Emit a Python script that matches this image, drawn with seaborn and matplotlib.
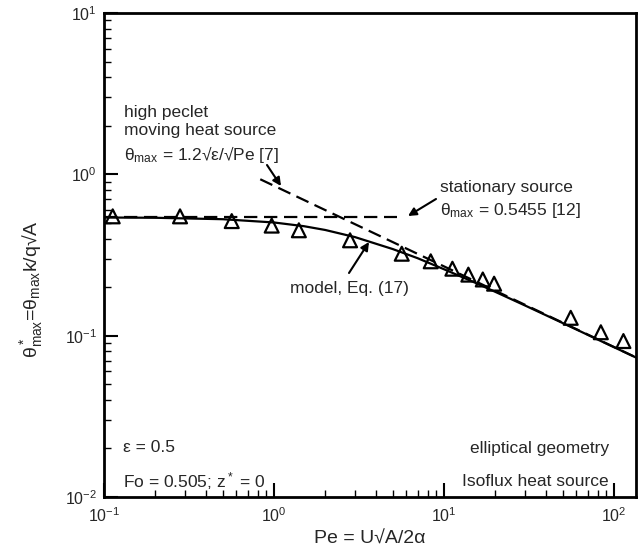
import matplotlib
matplotlib.use("Agg")
import matplotlib.pyplot as plt
import seaborn as sns
import numpy as np

# ---- data ----
pe_data = [0.1125, 0.280, 0.564, 0.969, 1.40, 2.80, 5.64, 8.35, 11.2, 13.9, 16.9, 19.7, 55.6, 83.6, 113.5]
theta_data = [0.549, 0.549, 0.513, 0.481, 0.450, 0.390, 0.322, 0.289, 0.260, 0.239, 0.223, 0.210, 0.129, 0.105, 0.0926]

pe_model = [0.1, 0.2, 0.5, 1, 1.5, 2, 3, 5, 7, 10, 15, 20, 30, 50, 80, 134.6]
theta_model = [0.540, 0.538, 0.527, 0.503, 0.477, 0.452, 0.408, 0.344, 0.302, 0.258, 0.2145, 0.187, 0.1537, 0.1196, 0.0947, 0.0732]

pe_stat = [0.1, 5.3]
theta_stat = [0.5455, 0.5455]

pe_high = [0.83, 134.6]
theta_high = [0.932, 0.0733]

sns.set_style("ticks")
plt.rcParams['font.family'] = ['Liberation Sans', 'DejaVu Sans']
plt.rcParams['mathtext.fontset'] = 'custom'
plt.rcParams['mathtext.rm'] = 'Liberation Sans'
plt.rcParams['mathtext.it'] = 'Liberation Sans'
plt.rcParams['mathtext.default'] = 'regular'
plt.rcParams['axes.unicode_minus'] = False

W, H = 644, 550
fig = plt.figure(figsize=(W / 100, H / 100), dpi=100)
ax = fig.add_axes([104 / W, 1 - 497 / H, (636 - 104) / W, (497 - 13) / H])
ax.set_xscale('log')
ax.set_yscale('log')

dash = (0, (6, 3))
sns.lineplot(x=pe_model, y=theta_model, ax=ax, color='black', lw=1.6, sort=False)
sns.lineplot(x=pe_stat, y=theta_stat, ax=ax, color='black', lw=1.6, linestyle=dash, sort=False)
sns.lineplot(x=pe_high, y=theta_high, ax=ax, color='black', lw=1.6, linestyle=dash, sort=False)
sns.scatterplot(x=pe_data, y=theta_data, ax=ax, marker='^', s=100,
                facecolor='none', edgecolor='black', linewidth=1.6, zorder=5)

ax.set_xlim(0.1, 134.6)
ax.set_ylim(0.01, 10)

for sp in ax.spines.values():
    sp.set_visible(True)
    sp.set_linewidth(2.0)
    sp.set_color('black')

ax.tick_params(which='major', direction='in', length=10, width=1.5, labelsize=11.5,
               top=False, right=False, color='black')
ax.tick_params(which='minor', direction='in', length=5, width=1.0,
               top=False, right=False, color='black')
ax.tick_params(axis='x', which='major', pad=7)
ax.tick_params(axis='y', which='major', pad=5)

ax.set_xlabel('Pe = U√A/2α', fontsize=14, va='center')
ax.xaxis.set_label_coords(0.5, -0.088)
ax.set_ylabel(r'$\theta^*_{max}$=$\theta_{max}$k/q√A', fontsize=14, va='center')
ax.yaxis.set_label_coords(-0.137, 0.43)

def fx(px):
    return px / W

def fy(py):
    return 1 - py / H

fs = 12.5
fig.text(fx(124), fy(112), 'high peclet', fontsize=fs, va='center')
fig.text(fx(124), fy(130), 'moving heat source', fontsize=fs, va='center')
fig.text(fx(124), fy(155), r'$\theta_{max}$ = 1.2√ε/√Pe [7]', fontsize=fs, va='center')
fig.text(fx(440), fy(187), 'stationary source', fontsize=fs, va='center')
fig.text(fx(440), fy(210), r'$\theta_{max}$ = 0.5455 [12]', fontsize=fs, va='center')
fig.text(fx(290), fy(288), 'model, Eq. (17)', fontsize=fs, va='center')
fig.text(fx(123), fy(448), 'ε = 0.5', fontsize=fs, va='center')
fig.text(fx(123), fy(481), r'Fo = 0.505; z$^*$ = 0', fontsize=fs, va='center')
fig.text(fx(609), fy(448), 'elliptical geometry', fontsize=fs, va='center', ha='right')
fig.text(fx(609), fy(481), 'Isoflux heat source', fontsize=fs, va='center', ha='right')

arrow = dict(arrowstyle='-|>', color='black', lw=1.5, mutation_scale=12, shrinkA=0, shrinkB=0)
for tail, tip in [((267, 165), (281, 186)), ((436, 199), (408, 216)), ((349, 273), (369, 242))]:
    ax.annotate('', xy=(fx(tip[0]), fy(tip[1])), xycoords='figure fraction',
                xytext=(fx(tail[0]), fy(tail[1])), textcoords='figure fraction',
                arrowprops=arrow)

fig.savefig('out.png', dpi=100)
